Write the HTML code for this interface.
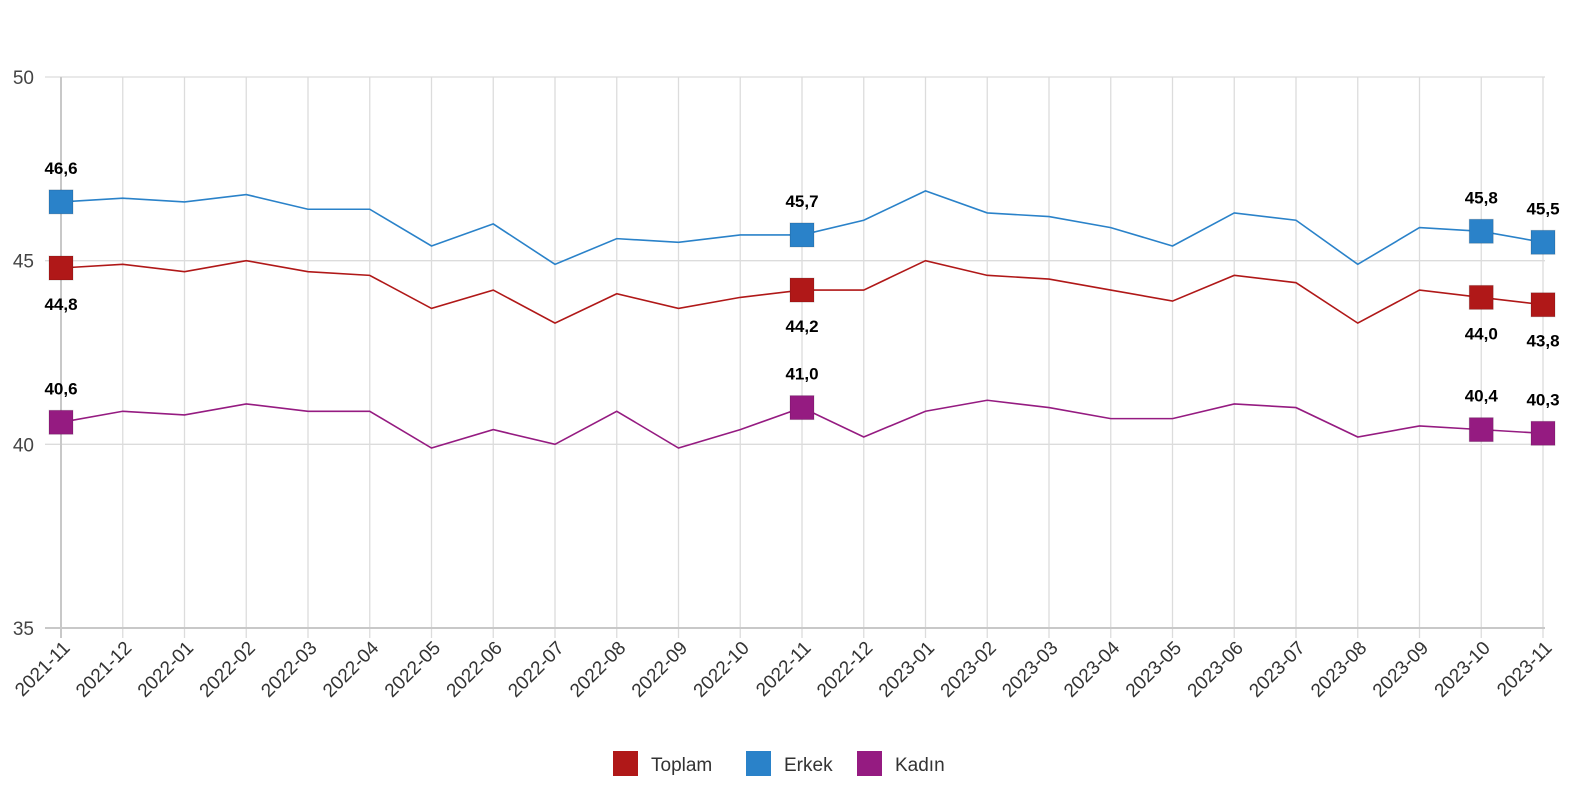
<!DOCTYPE html>
<html><head><meta charset="utf-8"><style>
html,body{margin:0;padding:0;background:#fff;width:1576px;height:800px;overflow:hidden}
svg{display:block}
svg text{font-family:"Liberation Sans","DejaVu Sans",sans-serif}
</style></head><body>
<svg id="c" width="1576" height="800" viewBox="0 0 1576 800" xmlns="http://www.w3.org/2000/svg"></svg>
<script>
const s=document.getElementById('c');
const X0=61,DX=61.75,Y=v=>77+(50-v)*36.733;
const labs=["2021-11","2021-12","2022-01","2022-02","2022-03","2022-04","2022-05","2022-06","2022-07","2022-08","2022-09","2022-10","2022-11","2022-12","2023-01","2023-02","2023-03","2023-04","2023-05","2023-06","2023-07","2023-08","2023-09","2023-10","2023-11"];
const E=[46.6,46.7,46.6,46.8,46.4,46.4,45.4,46.0,44.9,45.6,45.5,45.7,45.7,46.1,46.9,46.3,46.2,45.9,45.4,46.3,46.1,44.9,45.9,45.8,45.5];
const T=[44.8,44.9,44.7,45.0,44.7,44.6,43.7,44.2,43.3,44.1,43.7,44.0,44.2,44.2,45.0,44.6,44.5,44.2,43.9,44.6,44.4,43.3,44.2,44.0,43.8];
const K=[40.6,40.9,40.8,41.1,40.9,40.9,39.9,40.4,40.0,40.9,39.9,40.4,41.0,40.2,40.9,41.2,41.0,40.7,40.7,41.1,41.0,40.2,40.5,40.4,40.3];
let h='';
for(let i=0;i<25;i++){const x=X0+i*DX;h+=`<line x1="${x}" y1="77" x2="${x}" y2="638" stroke="#dcdcdc" stroke-width="1.3"/>`;
h+=`<text transform="translate(${x+10},649) rotate(-45)" text-anchor="end" font-size="19" fill="#333">${labs[i]}</text>`;}
[50,45,40,35].forEach(v=>{const y=Y(v);h+=`<line x1="45" y1="${y}" x2="1545" y2="${y}" stroke="${v==35?'#c8c8c8':'#dcdcdc'}" stroke-width="${v==35?2:1.3}"/>`;
h+=`<text x="34" y="${y+7}" text-anchor="end" font-size="19" fill="#444">${v}</text>`;});
h+=`<line x1="61" y1="77" x2="61" y2="638" stroke="#c8c8c8" stroke-width="2"/>`;
const mk=[0,12,23,24];
function ser(d,c,off){h+=`<polyline fill="none" stroke="${c}" stroke-width="1.6" points="${d.map((v,i)=>(X0+i*DX)+','+Y(v)).join(' ')}"/>`;
mk.forEach(i=>{const x=X0+i*DX,y=Y(d[i]);h+=`<rect x="${x-12}" y="${y-12}" width="24" height="24" fill="${c}" stroke="rgba(0,0,0,0.15)"/>`;
h+=`<text x="${x}" y="${y+off}" text-anchor="middle" font-size="17" font-weight="bold" fill="#000">${d[i].toFixed(1).replace('.',',')}</text>`;});}
ser(E,'#2a82c9',-28);ser(T,'#b01818',42);ser(K,'#951b81',-28);
[[613,'#b01818','Toplam'],[746,'#2a82c9','Erkek'],[857,'#951b81','Kadın']].forEach(([x,c,t])=>{
h+=`<rect x="${x}" y="751" width="25" height="25" fill="${c}"/><text x="${x+38}" y="771" font-size="19" fill="#333">${t}</text>`;});
s.innerHTML=h;
</script>
</body></html>
